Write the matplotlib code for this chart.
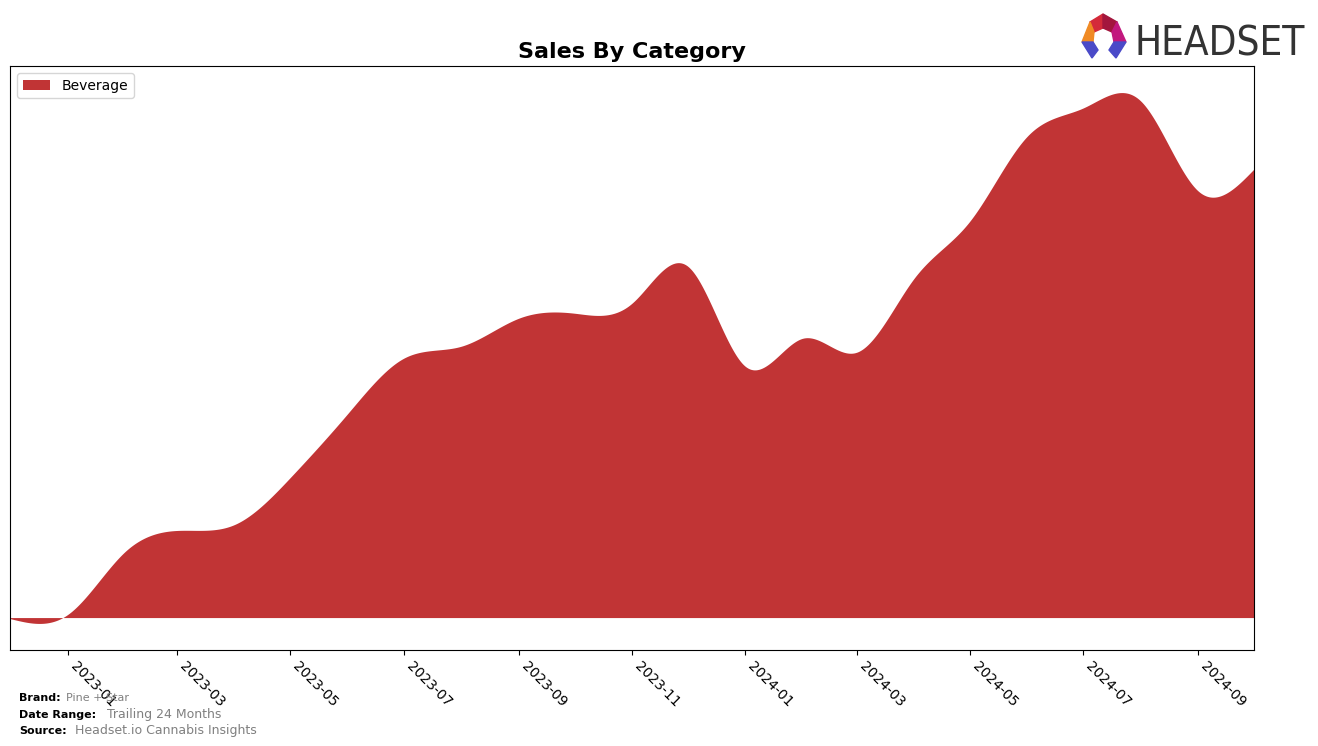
import numpy as np
import pandas as pd
import matplotlib
matplotlib.use('Agg')
import matplotlib.pyplot as plt
import matplotlib.dates as mdates
from matplotlib.patches import Polygon

# monthly sales (arbitrary units)
months = ['2022-12', '2023-01', '2023-02', '2023-03', '2023-04', '2023-05',
          '2023-06', '2023-07', '2023-08', '2023-09', '2023-10', '2023-11',
          '2023-12', '2024-01', '2024-02', '2024-03', '2024-04', '2024-05',
          '2024-06', '2024-07', '2024-08', '2024-09', '2024-10']
beverage = [-1, 3, 66, 87, 93, 140, 204, 259, 271, 299, 304, 314,
            351, 251, 279, 265, 339, 396, 481, 509, 516, 426, 448]
category = 'Beverage'
fill_color = '#c13435'

brand = 'Pine + Star'
date_range = 'Trailing 24 Months'
source = 'Headset.io Cannabis Insights'


def spline(x, y, xs):
    # natural cubic spline
    x = np.asarray(x, float)
    y = np.asarray(y, float)
    n = len(x)
    h = np.diff(x)
    A = np.zeros((n, n))
    b = np.zeros(n)
    A[0, 0] = A[-1, -1] = 1
    for i in range(1, n - 1):
        A[i, i - 1] = h[i - 1]
        A[i, i] = 2 * (h[i - 1] + h[i])
        A[i, i + 1] = h[i]
        b[i] = 6 * ((y[i + 1] - y[i]) / h[i] - (y[i] - y[i - 1]) / h[i - 1])
    M = np.linalg.solve(A, b)
    idx = np.clip(np.searchsorted(x, xs) - 1, 0, n - 2)
    x0, x1 = x[idx], x[idx + 1]
    hh = x1 - x0
    return (M[idx] * (x1 - xs) ** 3 / (6 * hh) + M[idx + 1] * (xs - x0) ** 3 / (6 * hh)
            + (y[idx] / hh - M[idx] * hh / 6) * (x1 - xs)
            + (y[idx + 1] / hh - M[idx + 1] * hh / 6) * (xs - x0))


dates = pd.to_datetime(months)
xn = mdates.date2num(dates)
xs = np.linspace(xn[0], xn[-1], 800)
ys = spline(xn, beverage, xs)

fig = plt.figure(figsize=(13.18, 7.46), dpi=100)
ax = fig.add_axes([0.0076, 0.1287, 0.9438, 0.7828])
ax.fill_between(mdates.num2date(xs), ys, 0, color=fill_color, linewidth=0, label=category)
ax.set_xlim(dates[0], dates[-1])
ax.set_yticks([])
ax.xaxis.set_major_locator(mdates.MonthLocator(bymonth=[1, 3, 5, 7, 9, 11]))
ax.xaxis.set_major_formatter(mdates.DateFormatter('%Y-%m'))
plt.setp(ax.get_xticklabels(), rotation=-45, ha='left')
ax.set_title('Sales By Category', fontsize=16, fontweight='bold')
ax.legend(loc='upper left')

# footer
fig.text(0.0144, 0.060, 'Brand:', fontsize=8, fontweight='bold')
fig.text(0.050, 0.060, brand, fontsize=8, color='gray')
fig.text(0.0144, 0.038, 'Date Range:', fontsize=8, fontweight='bold')
fig.text(0.081, 0.038, date_range, fontsize=9, color='gray')
fig.text(0.0144, 0.016, 'Source:', fontsize=8, fontweight='bold')
fig.text(0.057, 0.016, source, fontsize=9, color='gray')

# logo
W, H = 1318.0, 746.0


def px(pts):
    return [(x / W, 1 - y / H) for x, y in pts]


logo_parts = [
    ([(1090, 22), (1103, 14), (1103, 28), (1094, 32)], '#d42a3a'),
    ([(1103, 14), (1117, 22), (1112, 32), (1103, 28)], '#a3163d'),
    ([(1090, 22), (1094, 32), (1093, 42), (1082, 42)], '#f08a24'),
    ([(1117, 22), (1126, 42), (1114, 42), (1112, 32)], '#c2187e'),
    ([(1082, 42), (1093, 42), (1098, 50), (1092, 58)], '#4a4ac8'),
    ([(1126, 42), (1114, 42), (1109, 50), (1116, 58)], '#4a4ac8'),
]
for pts, c in logo_parts:
    fig.patches.append(Polygon(px(pts), closed=True, color=c, transform=fig.transFigure))
fig.text(1134 / W, 1 - 55 / H, 'HEADSET', fontsize=29, color='#333333',
         family='DejaVu Sans', fontstretch='condensed')

fig.savefig('out.png', dpi=100)
